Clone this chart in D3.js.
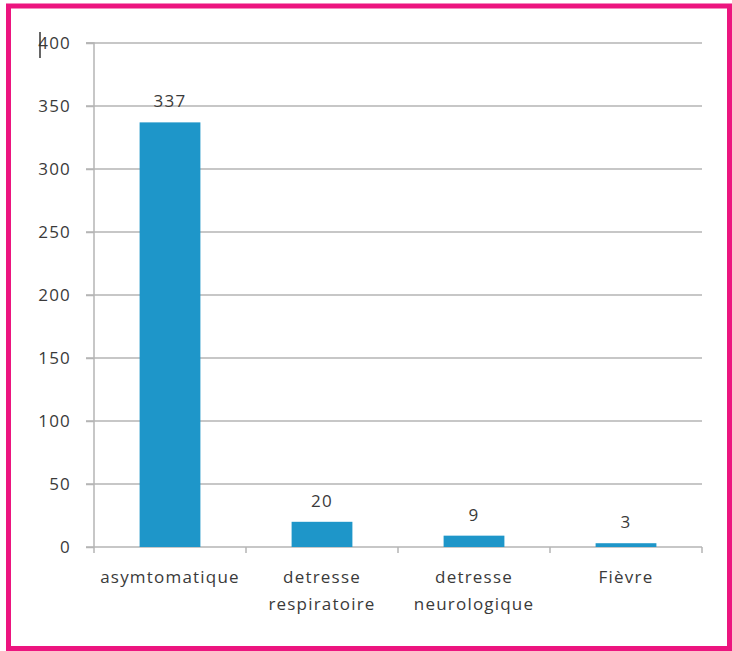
<!DOCTYPE html>
<html><head><meta charset="utf-8">
<script src="https://cdn.jsdelivr.net/npm/d3@7"></script>
<style>body{margin:0;background:#fff}svg{display:block}</style>
</head><body>
<script>
const categories = [["asymtomatique"], ["detresse","respiratoire"], ["detresse","neurologique"], ["Fièvre"]];
const values = [337, 20, 9, 3];
const yTicks = [0, 50, 100, 150, 200, 250, 300, 350, 400];

const W = 732, H = 651;
const svg = d3.select("body").append("svg").attr("width", W).attr("height", H);
const font = "'Open Sans', 'Liberation Sans', sans-serif";
const textColor = "#3a3a3a";
const fs = 17, ls = 1.2;

// frame
svg.append("rect").attr("x", 8.5).attr("y", 6).attr("width", 721).attr("height", 642.5)
  .attr("fill", "none").attr("stroke", "#ec157f").attr("stroke-width", 5);

const x0 = 94, x1 = 702, yTop = 43, yBot = 547;
const x = d3.scaleBand().domain(d3.range(categories.length)).range([x0, x1]).paddingInner(0.6).paddingOuter(0.3);
const band = d3.scaleBand().domain(d3.range(categories.length)).range([x0, x1]);
const y = d3.scaleLinear().domain([0, 400]).range([yBot, yTop]);

// gridlines
svg.append("g").selectAll("line").data(yTicks.filter(d => d > 0)).join("line")
  .attr("x1", 86).attr("x2", x1).attr("y1", d => y(d)).attr("y2", d => y(d))
  .attr("stroke", "#b5b5b5").attr("stroke-width", 1.5);

// y axis
const yAxis = svg.append("g").attr("transform", `translate(${x0},0)`)
  .call(d3.axisLeft(y).tickValues(yTicks).tickSize(8).tickPadding(15));
yAxis.select(".domain").attr("stroke", "#b5b5b5").attr("stroke-width", 1.5).attr("d", `M-8,${yTop}H0V${yBot}`);
yAxis.selectAll(".tick line").attr("stroke", "#b5b5b5").attr("stroke-width", 1.5);
yAxis.selectAll(".tick text").attr("font-family", font).attr("font-size", fs).attr("letter-spacing", ls)
  .attr("fill", textColor).attr("dy", "0.35em");

// x axis baseline and ticks
svg.append("line").attr("x1", 86).attr("x2", x1).attr("y1", yBot).attr("y2", yBot)
  .attr("stroke", "#b5b5b5").attr("stroke-width", 1.5);
const bounds = d3.range(categories.length + 1).map(i => i < categories.length ? band(i) : x1);
svg.append("g").selectAll("line").data(bounds).join("line")
  .attr("x1", d => d).attr("x2", d => d).attr("y1", yBot).attr("y2", yBot + 6)
  .attr("stroke", "#b5b5b5").attr("stroke-width", 1.5);

// bars
svg.append("g").selectAll("rect").data(values).join("rect")
  .attr("x", (d, i) => x(i)).attr("width", x.bandwidth())
  .attr("y", d => y(d)).attr("height", d => yBot - y(d))
  .attr("fill", "#1e96c9");

// value labels
svg.append("g").selectAll("text").data(values).join("text")
  .attr("x", (d, i) => x(i) + x.bandwidth() / 2).attr("y", d => y(d) - 15)
  .attr("text-anchor", "middle").attr("font-family", font).attr("font-size", fs).attr("letter-spacing", ls)
  .attr("fill", textColor).text(d => d);

// category labels
const cl = svg.append("g").selectAll("text").data(categories).join("text")
  .attr("text-anchor", "middle").attr("font-family", font).attr("font-size", fs).attr("letter-spacing", ls)
  .attr("fill", textColor)
  .attr("transform", (d, i) => `translate(${band(i) + band.bandwidth() / 2},583)`);
cl.selectAll("tspan").data(d => d).join("tspan")
  .attr("x", 0).attr("dy", (d, j) => j === 0 ? 0 : 27).text(d => d);

// small cursor mark near top label
svg.append("line").attr("x1", 40).attr("x2", 40).attr("y1", 32).attr("y2", 58)
  .attr("stroke", "#333").attr("stroke-width", 1.5);
</script>
</body></html>
